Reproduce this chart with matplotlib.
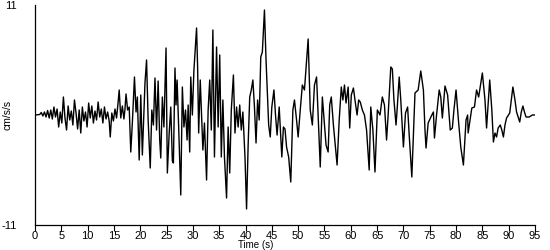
import matplotlib
matplotlib.use("Agg")
import matplotlib.pyplot as plt

# Accelerogram (time in s, acceleration in cm/s/s)
time_s = [
    0.0, 0.9, 1.2, 1.5, 1.8, 2.1, 2.4, 2.7, 3.0, 3.3, 3.6, 3.9, 4.2, 4.5, 4.8,
    5.1, 5.4, 5.7, 6.0, 6.3, 6.6, 6.9, 7.2, 7.5, 7.8, 8.1, 8.4, 8.7, 9.0, 9.3,
    9.6, 9.9, 10.2, 10.5, 10.8, 11.1, 11.4, 11.7, 12.0, 12.3, 12.6, 12.9, 13.2,
    13.5, 13.8, 14.1, 14.3, 14.6, 14.9, 15.2, 15.5, 15.8, 16.0, 16.3, 16.6,
    16.9, 17.1, 17.3, 17.6, 17.9, 18.2, 18.5, 18.9, 19.2, 19.45, 19.8, 20.1,
    20.4, 20.9, 21.2, 21.5, 21.9, 22.2, 22.5, 22.8, 23.1, 23.4, 23.7, 23.9,
    24.2, 24.5, 24.9, 25.15, 25.5, 25.8, 26.1, 26.3, 26.6, 26.8, 27.0, 27.3,
    27.7, 28.0, 28.3, 28.6, 28.9, 29.1, 29.4, 29.6, 29.9, 30.2, 30.7, 30.9,
    31.1, 31.4, 31.9, 32.2, 32.6, 32.9, 33.2, 33.5, 33.8, 34.1, 34.5, 34.8,
    35.1, 35.4, 35.7, 36.0, 36.4, 36.7, 37.0, 37.3, 37.7, 38.0, 38.3, 38.6,
    38.9, 39.2, 39.5, 39.9, 40.2, 40.5, 40.8, 41.1, 41.4, 41.7, 42.0, 42.3,
    42.6, 42.9, 43.2, 43.6, 43.9, 44.2, 44.4, 44.7, 45.0, 45.4, 45.7, 46.0,
    46.4, 46.9, 47.2, 47.5, 47.8, 48.2, 48.6, 49.0, 49.3, 49.7, 50.0, 50.4,
    50.8, 51.2, 51.9, 52.3, 52.7, 53.1, 53.5, 53.8, 54.2, 54.6, 55.0, 55.3,
    55.7, 56.0, 56.3, 56.7, 57.4, 57.8, 58.2, 58.5, 58.8, 59.1, 59.5, 59.8,
    60.1, 60.5, 60.8, 61.2, 61.5, 61.8, 62.2, 62.6, 63.0, 63.5, 63.8, 64.2,
    64.6, 65.05, 65.55, 66.0, 66.4, 66.8, 67.1, 67.6, 67.9, 68.2, 68.6, 68.8,
    69.2, 69.5, 70.0, 70.4, 70.8, 71.1, 71.6, 71.9, 72.2, 72.8, 73.3, 73.8,
    74.1, 74.3, 74.7, 75.4, 75.7, 75.9, 76.3, 76.8, 77.1, 77.4, 77.9, 78.4,
    78.9, 79.3, 79.6, 80.0, 80.5, 80.9, 81.4, 81.9, 82.2, 82.3, 83.0, 83.5,
    83.9, 84.3, 85.0, 85.5, 85.8, 86.4, 86.8, 87.1, 87.4, 87.7, 88.0, 88.4,
    88.7, 89.0, 89.3, 89.6, 90.2, 90.5, 90.8, 91.2, 91.5, 91.8, 92.1, 92.4,
    92.7, 93.0, 93.3, 93.9, 94.5, 94.9,
]
accel = [
    0.0, 0.05, 0.25, -0.1, 0.3, -0.2, 0.45, -0.3, 0.5, -0.4, 0.8, -0.2, 0.6,
    -1.2, 0.3, -0.8, 1.8, -0.3, -1.5, 0.9, -0.5, 0.4, -1.0, 1.5, 0.2, -1.4,
    0.5, -1.8, 0.8, -0.6, 0.3, -1.2, 1.2, -0.3, 0.9, -0.8, 0.4, -0.5, 1.3,
    -0.2, 0.6, -0.8, 0.8, -0.4, 0.3, -0.6, -2.2, 0.2, -0.6, 0.6, -0.3, 1.3,
    2.5, -0.3, 0.9, -0.4, 0.6, 2.1, 0.5, 0.8, -3.7, -0.8, 3.8, 0.3, 1.8,
    -4.5, 2.0, -4.0, 3.2, 5.5, -0.5, -5.3, 0.5, -1.0, 3.7, -1.5, 3.4, -2.5,
    -4.3, 1.8, -1.2, 6.7, -5.8, -1.8, 0.8, -4.6, -4.8, 4.7, 1.0, 3.5, -1.2,
    -8.0, 2.8, -1.2, 0.5, -2.5, 1.0, -3.7, 3.8, 0.0, 4.5, 8.7, 4.8, -1.8,
    3.5, -3.5, -0.8, -6.5, 0.5, 3.5, -1.5, 8.5, -4.2, 6.8, -1.2, 6.0, -4.2,
    1.5, -4.2, -8.3, -1.2, -5.8, 0.5, 4.0, -1.8, 0.8, -1.2, 1.0, -1.5, 0.3,
    -4.2, -9.4, -3.0, 1.8, 2.5, 3.5, 0.8, -2.8, 1.5, -0.5, 5.8, 6.3, 10.5,
    5.5, 1.5, -1.0, -2.2, 0.8, 2.5, 0.0, -2.0, 0.8, -4.2, -1.2, -1.4, -3.2,
    -4.2, -6.7, 0.5, 1.5, -0.5, -2.2, 0.5, 3.0, 2.5, 7.6, 0.5, -1.0, 3.0,
    3.8, 0.0, -5.2, 1.8, -1.0, -3.0, -3.7, 1.0, 1.8, -1.0, -5.0, -0.5, 2.8,
    1.5, 3.0, 1.2, 2.8, -1.3, 2.0, 2.7, 1.5, 0.0, 1.5, 1.3, 0.5, 0.0, -1.5,
    -5.5, 0.8, -1.5, -5.7, 0.5, 0.0, 1.8, 1.0, -2.5, 0.0, 4.8, 4.6, 1.5,
    -1.0, 0.5, 3.8, 1.5, -3.2, 0.2, 0.8, -2.0, -6.2, -2.0, 2.2, 2.5, 4.4,
    2.5, -1.5, -3.3, -0.8, 0.0, 0.3, -2.3, 0.0, 2.5, 1.8, -0.3, 2.9, 2.0,
    -1.5, -1.3, 0.5, 2.5, -0.8, -3.2, -5.0, -0.5, 0.0, -1.8, 0.7, 0.8, 2.5,
    1.8, 4.2, 1.5, -1.3, 3.5, 0.5, -2.7, -1.8, -2.2, -1.3, -1.0, -1.5, -2.2,
    -1.0, -0.3, 0.2, 1.5, 2.8, 1.5, 0.3, -0.2, -0.7, 0.3, 0.9, 0.3, -0.2,
    -0.2, 0.0, 0.0,
]
x_ticks = list(range(0, 96, 5))
y_ticks = [-11, 11]

plt.rcParams['font.family'] = ['Liberation Sans', 'DejaVu Sans']
plt.rcParams['axes.unicode_minus'] = False

fig = plt.figure(figsize=(5.5, 2.5), dpi=100)
ax = fig.add_axes([0.0636, 0.10, 0.9091, 0.88])

ax.plot(time_s, accel, color='black', linewidth=1.0)

ax.set_xlim(0, 95)
ax.set_ylim(-11, 11)
ax.set_xticks(x_ticks)
ax.set_yticks(y_ticks)
ax.tick_params(axis='x', direction='out', length=4, width=0.8, pad=0.5, labelsize=8)
ax.tick_params(axis='y', length=0, pad=13, labelsize=8)

for side in ('top', 'right'):
    ax.spines[side].set_visible(False)
for side in ('left', 'bottom'):
    ax.spines[side].set_linewidth(0.9)

ax.set_xlabel('Time (s)', fontsize=7)
ax.xaxis.set_label_coords(0.442, -0.092)
ax.xaxis.label.set_va('center')
ax.set_ylabel('cm/s/s', fontsize=7.5)
ax.yaxis.set_label_coords(-0.045, 0.5)

fig.savefig('out.png', dpi=100)
